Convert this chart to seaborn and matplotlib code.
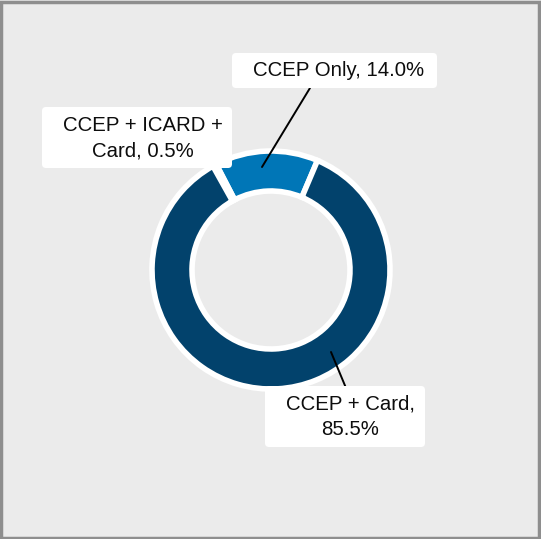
import matplotlib
matplotlib.use("Agg")
import matplotlib.pyplot as plt
import seaborn as sns
from matplotlib.patches import Rectangle, FancyBboxPatch

sns.set_theme(style="white")
plt.rcParams['font.family'] = ['Liberation Sans', 'DejaVu Sans']

categories = ["CCEP Only", "CCEP + ICARD + Card", "CCEP + Card"]
values = [14.0, 0.5, 85.5]
label_texts = ["CCEP Only, 14.0%", "CCEP + ICARD +\nCard, 0.5%", "CCEP + Card,\n85.5%"]
colors = ["#0076b7", "#3d8ac6", "#02426c"]

W, H = 541, 539
fig = plt.figure(figsize=(W / 100, H / 100), dpi=100)
fig.patch.set_facecolor("#ebebeb")
ax = fig.add_axes([0, 0, 1, 1])
ax.set_facecolor("#ebebeb")

cx, cy, R = 271, H - 270, 119
wedges, _ = ax.pie(values, colors=colors, startangle=67, counterclock=True,
                   center=(cx, cy), radius=R, frame=True,
                   wedgeprops=dict(width=40, edgecolor="white", linewidth=4))
ax.set_xlim(0, W)
ax.set_ylim(0, H)
ax.axis("off")

def pt(x, y):
    return (x, H - y)

# leader lines
ax.plot(*zip(pt(310, 88), pt(262, 167)), color="black", lw=1.4, zorder=5)
ax.plot(*zip(pt(331, 352), pt(346, 388)), color="black", lw=1.4, zorder=5)

boxes = [(232, 53, 205, 35), (42, 107, 190, 61), (265, 386, 160, 61)]
text_pos = [(339, 71), (143, 138), (350, 417)]
for (bx, by, bw, bh), (tx, ty), lab in zip(boxes, text_pos, label_texts):
    p = FancyBboxPatch((bx + 4, H - by - bh + 4), bw - 8, bh - 8,
                       boxstyle="round,pad=4", fc="white", ec="none", zorder=6)
    ax.add_patch(p)
    ax.text(*pt(tx, ty), lab, ha="center", va="center", fontsize=14.7,
            color="#0d0d0d", linespacing=1.42, zorder=7)

fig.patches.append(Rectangle((0.002, 0.002), 0.994, 0.995, transform=fig.transFigure,
                             fill=False, ec="#8e8e8e", lw=2.5))

fig.savefig("out.png", dpi=100, facecolor=fig.get_facecolor())
